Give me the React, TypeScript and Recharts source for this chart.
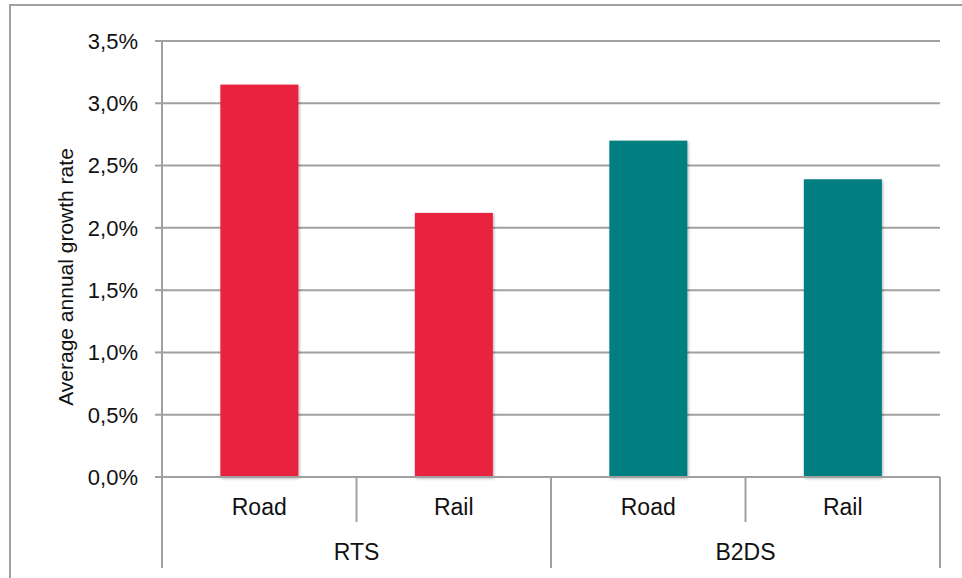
import React from "react";
import { BarChart, Bar, XAxis, YAxis, CartesianGrid, Cell } from "recharts";

const categories = ["Road", "Rail", "Road", "Rail"];
const groups = ["RTS", "RTS", "B2DS", "B2DS"];
const growthRates = [3.15, 2.12, 2.7, 2.39];
const yTicks = [0, 0.5, 1, 1.5, 2, 2.5, 3, 3.5];
const groupColors: Record<string, string> = { RTS: "#E9243F", B2DS: "#017E80" };

const W = 962;
const H = 578;
const M = { top: 41, right: 22, bottom: 11, left: 82 };
const Y_AXIS_W = 80;
const X_AXIS_H = 90;
const PLOT_W = W - M.left - Y_AXIS_W - M.right;
const BAND = PLOT_W / categories.length;
const GRID = "#a0a0a0";
const FONT = "'Liberation Sans', Arial, sans-serif";

const data = categories.map((c, i) => ({
    name: c,
    group: groups[i],
    value: growthRates[i],
}));

function CategoryTick(props: any) {
    const { x, y, index } = props;
    const i = index as number;
    const last = i === categories.length - 1;
    const groupEnd = last || groups[i] !== groups[i + 1];
    const groupStart = i === 0 || groups[i] !== groups[i - 1];
    const rx = x + BAND / 2;
    const lx = x - BAND / 2;
    return (
        <g>
            {i === 0 && <line x1={lx} x2={lx} y1={y} y2={y + 91} stroke={GRID} strokeWidth={2} />}
            <line x1={rx} x2={rx} y1={y} y2={y + (groupEnd ? 91 : 45)} stroke={GRID} strokeWidth={2} />
            <text x={x} y={y + 38} textAnchor="middle" fontSize={23} fill="#111" fontFamily={FONT}>
                {categories[i]}
            </text>
            {groupStart && (
                <text x={x + BAND / 2} y={y + 83} textAnchor="middle" fontSize={23} fill="#111" fontFamily={FONT}>
                    {groups[i]}
                </text>
            )}
        </g>
    );
}

function AxisTitle(props: any) {
    const vb = props.viewBox || {};
    const cx = (vb.x ?? M.left) - 17;
    const cy = (vb.y ?? M.top) + (vb.height ?? 436) / 2 + 18;
    return (
        <text
            x={cx}
            y={cy}
            transform={`rotate(-90, ${cx}, ${cy})`}
            textAnchor="middle"
            dominantBaseline="central"
            fontSize={21}
            fill="#111"
            fontFamily={FONT}
        >
            Average annual growth rate
        </text>
    );
}

function ShadowBar(props: any) {
    const { x, y, width, height, fill } = props;
    if (!height || height <= 0) return null;
    return <rect x={x} y={y} width={width} height={height} fill={fill} filter="url(#barShadow)" />;
}

export default function App() {
    return (
        <div style={{ position: "absolute", left: 0, top: 0, width: W, height: H, background: "#fff", overflow: "hidden" }}>
            <svg width={0} height={0} style={{ position: "absolute" }}>
                <defs>
                    <filter id="barShadow" x="-10%" y="-10%" width="130%" height="130%">
                        <feDropShadow dx="1" dy="1.5" stdDeviation="1.5" floodColor="#000" floodOpacity="0.3" />
                    </filter>
                </defs>
            </svg>
            <div
                style={{
                    position: "absolute",
                    left: 9,
                    top: 4,
                    width: W,
                    height: H,
                    borderLeft: "2px solid #a0a0a0",
                    borderTop: "2px solid #a0a0a0",
                }}
            />
            <div style={{ position: "absolute", left: 0, top: 0 }}>
                <BarChart width={W} height={H} data={data} margin={M} barCategoryGap="30%">
                    <CartesianGrid vertical={false} stroke={GRID} strokeWidth={2} />
                    <XAxis
                        dataKey="name"
                        height={X_AXIS_H}
                        interval={0}
                        tickLine={false}
                        tickSize={0}
                        tickMargin={0}
                        axisLine={{ stroke: GRID, strokeWidth: 2 }}
                        tick={<CategoryTick />}
                    />
                    <YAxis
                        width={Y_AXIS_W}
                        domain={[0, 3.5]}
                        ticks={yTicks}
                        interval={0}
                        tickSize={7}
                        tickMargin={17}
                        tickLine={{ stroke: GRID, strokeWidth: 2 }}
                        axisLine={{ stroke: GRID, strokeWidth: 2 }}
                        tick={{ fontSize: 22, fill: "#111", fontFamily: FONT }}
                        tickFormatter={(v: number) => v.toFixed(1).replace(".", ",") + "%"}
                        label={<AxisTitle />}
                    />
                    <Bar dataKey="value" isAnimationActive={false} shape={<ShadowBar />}>
                        {data.map((d, i) => (
                            <Cell key={i} fill={groupColors[d.group]} />
                        ))}
                    </Bar>
                </BarChart>
            </div>
        </div>
    );
}
